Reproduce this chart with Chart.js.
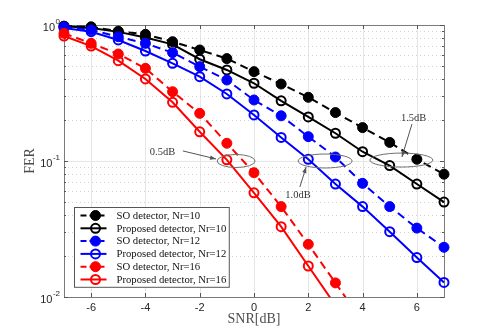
<!DOCTYPE html>
<html lang="en">
<head>
<meta charset="UTF-8">
<title>FER vs SNR</title>
<script src="https://cdn.jsdelivr.net/npm/chart.js"></script>
<style>
  html, body { margin: 0; padding: 0; background: #fff; }
</style>
</head>
<body>
<canvas id="ferChart" width="491" height="335"></canvas>
<script>
// values
const snr = [-7, -6, -5, -4, -3, -2, -1, 0, 1, 2, 3, 4, 5, 6, 7];
const xTicks = [-6, -4, -2, 0, 2, 4, 6];
const yMajor = [1, 0.1, 0.01];
const yExp = ['0', '-1', '-2'];

const soNr10   = [0.98, 0.97, 0.90, 0.854, 0.754, 0.655, 0.566, 0.454, 0.368, 0.294, 0.227, 0.176, 0.137, 0.103, 0.080];
const propNr10 = [0.98, 0.95, 0.89, 0.81, 0.72, 0.56, 0.467, 0.373, 0.277, 0.211, 0.160, 0.117, 0.0925, 0.0677, 0.0499];
const soNr12   = [0.97, 0.92, 0.82, 0.733, 0.626, 0.494, 0.394, 0.281, 0.215, 0.151, 0.107, 0.0685, 0.0462, 0.0321, 0.0232];
const propNr12 = [0.95, 0.893, 0.776, 0.644, 0.523, 0.417, 0.311, 0.218, 0.149, 0.103, 0.0677, 0.0462, 0.0302, 0.0195, 0.0128];
const soNr16   = [0.869, 0.733, 0.612, 0.480, 0.323, 0.224, 0.135, 0.082, 0.0462, 0.0244, 0.0127, 0.0066, null, null, null];
const propNr16 = [0.83, 0.70, 0.547, 0.401, 0.270, 0.164, 0.102, 0.0584, 0.0329, 0.0169, 0.0087, null, null, null, null];

const seriesLabels = [
  'SO detector, Nr=10', 'Proposed detector, Nr=10',
  'SO detector, Nr=12', 'Proposed detector, Nr=12',
  'SO detector, Nr=16', 'Proposed detector, Nr=16'
];

// SNR gap callouts: ellipse centre, label and arrow ends in data units
const gapText = ['0.5dB', '1.0dB', '1.5dB'];
const gapX    = [-0.66, 2.62, 5.43];
const gapY    = [0.1, 0.1, 0.1016];
const textX   = [-3.37, 1.62, 5.88];
const textY   = [0.1165, 0.0562, 0.207];
const arrowX0 = [-2.62, 1.69, 5.82];
const arrowY0 = [0.1186, 0.0644, 0.187];
const arrowX1 = [-1.40, 1.92, 5.45];
const arrowY1 = [0.1035, 0.0903, 0.107];
const ellRx = [19, 27, 31.5];
const ellRy = [6.5, 7, 7];

function pts(arr) {
  return snr.map((x, i) => ({ x: x, y: arr[i] }));
}

function makeSet(label, values, color, dashed, order) {
  return {
    label: label,
    data: pts(values),
    borderColor: color,
    borderWidth: 2,
    borderDash: dashed ? [8, 5] : [],
    pointRadius: dashed ? 5 : 4.5,
    pointBorderWidth: dashed ? 1 : 2,
    pointBorderColor: color,
    pointBackgroundColor: dashed ? color : 'rgba(0,0,0,0)',
    tension: 0,
    spanGaps: false,
    clip: { left: 8, right: 8, top: 8, bottom: 0 },
    order: order
  };
}

function line(ctx, x0, y0, x1, y1) {
  ctx.beginPath();
  ctx.moveTo(x0, y0);
  ctx.lineTo(x1, y1);
  ctx.stroke();
}

const frame = {
  id: 'frame',
  beforeDatasetsDraw(chart) {
    const { ctx, chartArea: a, scales: { x, y } } = chart;
    ctx.save();
    ctx.lineWidth = 1;

    // grid
    ctx.strokeStyle = '#e6e6e6';
    xTicks.forEach(v => {
      const px = Math.round(x.getPixelForValue(v)) + 0.5;
      line(ctx, px, a.top, px, a.bottom);
    });
    [0.01, 0.1].forEach(d => {
      for (let m = 1; m <= 9; m++) {
        const py = Math.round(y.getPixelForValue(d * m)) + 0.5;
        if (m === 1) {
          ctx.setLineDash([]);
          ctx.strokeStyle = '#e6e6e6';
        } else {
          ctx.setLineDash([1, 3]);
          ctx.strokeStyle = '#d2d2d2';
        }
        line(ctx, a.left, py, a.right, py);
      }
    });
    ctx.setLineDash([]);

    // box
    ctx.strokeStyle = '#7a7a7a';
    ctx.strokeRect(Math.round(a.left) + 0.5, Math.round(a.top) + 0.5,
      Math.round(a.right - a.left), Math.round(a.bottom - a.top));

    // inward tick marks
    ctx.strokeStyle = '#555';
    xTicks.forEach(v => {
      const px = Math.round(x.getPixelForValue(v)) + 0.5;
      line(ctx, px, a.bottom, px, a.bottom - 4);
      line(ctx, px, a.top, px, a.top + 4);
    });
    [0.01, 0.1].forEach(d => {
      for (let m = 1; m <= 10; m++) {
        const py = Math.round(y.getPixelForValue(d * m)) + 0.5;
        const len = (m === 1 || m === 10) ? 4 : 2;
        line(ctx, a.left, py, a.left + len, py);
        line(ctx, a.right, py, a.right - len, py);
      }
    });
    ctx.restore();
  },

  afterDatasetsDraw(chart) {
    const { ctx, chartArea: a, scales: { x, y } } = chart;
    ctx.save();

    // gap callouts
    ctx.lineWidth = 1;
    gapText.forEach((t, i) => {
      const cx = x.getPixelForValue(gapX[i]);
      const cy = y.getPixelForValue(gapY[i]);
      ctx.strokeStyle = '#6e6e6e';
      ctx.beginPath();
      ctx.ellipse(cx, cy, ellRx[i], ellRy[i], 0, 0, Math.PI * 2);
      ctx.stroke();

      const x0 = x.getPixelForValue(arrowX0[i]);
      const y0 = y.getPixelForValue(arrowY0[i]);
      const x1 = x.getPixelForValue(arrowX1[i]);
      const y1 = y.getPixelForValue(arrowY1[i]);
      ctx.strokeStyle = '#555';
      line(ctx, x0, y0, x1, y1);
      const ang = Math.atan2(y1 - y0, x1 - x0);
      ctx.fillStyle = '#555';
      ctx.beginPath();
      ctx.moveTo(x1, y1);
      ctx.lineTo(x1 - 6 * Math.cos(ang) + 2.2 * Math.sin(ang), y1 - 6 * Math.sin(ang) - 2.2 * Math.cos(ang));
      ctx.lineTo(x1 - 6 * Math.cos(ang) - 2.2 * Math.sin(ang), y1 - 6 * Math.sin(ang) + 2.2 * Math.cos(ang));
      ctx.closePath();
      ctx.fill();

      ctx.fillStyle = '#333';
      ctx.font = '10.5px "Liberation Serif", serif';
      ctx.textAlign = 'center';
      ctx.textBaseline = 'middle';
      ctx.fillText(t, x.getPixelForValue(textX[i]), y.getPixelForValue(textY[i]));
    });

    // y tick labels 10^n
    ctx.fillStyle = '#262626';
    ctx.textBaseline = 'middle';
    yMajor.forEach((v, i) => {
      const py = y.getPixelForValue(v);
      const ex = a.left - 4;
      ctx.font = '8px "Liberation Sans", sans-serif';
      ctx.textAlign = 'right';
      ctx.fillText(yExp[i], ex, py - 3);
      const ew = ctx.measureText(yExp[i]).width;
      ctx.font = '11px "Liberation Sans", sans-serif';
      ctx.fillText('10', ex - ew - 0.5, py + 3);
    });

    // legend
    const sets = chart.data.datasets;
    ctx.font = '10.7px "Liberation Serif", serif';
    let tw = 0;
    sets.forEach(s => { tw = Math.max(tw, ctx.measureText(s.label).width); });
    const rowH = 12.8;
    const bw = 42 + tw + 3;
    const bh = rowH * sets.length + 3;
    const bx = Math.round(a.left + 10) + 0.5;
    const by = Math.round(a.bottom - 10 - bh) + 0.5;
    ctx.fillStyle = '#fff';
    ctx.fillRect(bx, by, bw, bh);
    ctx.strokeStyle = '#555';
    ctx.lineWidth = 1;
    ctx.strokeRect(bx, by, bw, bh);
    sets.forEach((s, i) => {
      const ry = by + 8 + i * rowH;
      ctx.strokeStyle = s.borderColor;
      ctx.lineWidth = 2;
      ctx.setLineDash(s.borderDash.length ? [6, 3] : []);
      line(ctx, bx + 6, ry, bx + 32, ry);
      ctx.setLineDash([]);
      ctx.beginPath();
      ctx.arc(bx + 21, ry, s.pointRadius, 0, Math.PI * 2);
      ctx.fillStyle = s.pointBackgroundColor;
      ctx.fill();
      ctx.lineWidth = s.pointBorderWidth;
      ctx.stroke();
      ctx.fillStyle = '#111';
      ctx.textAlign = 'left';
      ctx.textBaseline = 'middle';
      ctx.fillText(s.label, bx + 42, ry + 0.5);
    });
    ctx.restore();
  }
};

new Chart(document.getElementById('ferChart'), {
  type: 'line',
  data: {
    datasets: [
      makeSet(seriesLabels[0], soNr10,   '#000000', true,  6),
      makeSet(seriesLabels[1], propNr10, '#000000', false, 5),
      makeSet(seriesLabels[2], soNr12,   '#0000ff', true,  4),
      makeSet(seriesLabels[3], propNr12, '#0000ff', false, 3),
      makeSet(seriesLabels[4], soNr16,   '#ff0000', true,  2),
      makeSet(seriesLabels[5], propNr16, '#ff0000', false, 1)
    ]
  },
  options: {
    responsive: false,
    animation: false,
    devicePixelRatio: 1,
    layout: { padding: { top: 25, right: 47, left: 0, bottom: 0 } },
    plugins: {
      legend: { display: false },
      tooltip: { enabled: false }
    },
    scales: {
      x: {
        type: 'linear',
        min: -7,
        max: 7,
        afterBuildTicks: s => { s.ticks = xTicks.map(v => ({ value: v })); },
        afterFit: s => { s.height = 38; },
        grid: { display: false, drawTicks: false },
        border: { display: false },
        ticks: {
          color: '#262626',
          padding: 4,
          maxRotation: 0,
          font: { family: 'Liberation Sans', size: 11 }
        },
        title: {
          display: true,
          text: 'SNR[dB]',
          color: '#4d4d4d',
          font: { family: 'Liberation Serif', size: 14 },
          padding: { top: 0, bottom: 7 }
        }
      },
      y: {
        type: 'logarithmic',
        min: 0.01,
        max: 1,
        afterFit: s => { s.width = 64; },
        grid: { display: false, drawTicks: false },
        border: { display: false },
        ticks: { display: false },
        title: {
          display: true,
          text: 'FER',
          color: '#4d4d4d',
          font: { family: 'Liberation Serif', size: 14 },
          padding: { top: 22, bottom: 0 }
        }
      }
    }
  },
  plugins: [frame]
});
</script>
</body>
</html>
